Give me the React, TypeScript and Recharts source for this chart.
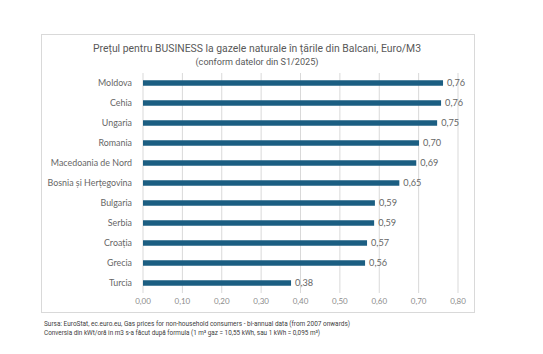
import React from "react";
import { BarChart, Bar, XAxis, YAxis, CartesianGrid, LabelList } from "recharts";

const countries = [
  "Moldova",
  "Cehia",
  "Ungaria",
  "Romania",
  "Macedoania de Nord",
  "Bosnia și Herțegovina",
  "Bulgaria",
  "Serbia",
  "Croația",
  "Grecia",
  "Turcia",
];
const prices = [0.762, 0.757, 0.747, 0.701, 0.694, 0.651, 0.589, 0.587, 0.569, 0.564, 0.376];
const xTicks = [0, 0.1, 0.2, 0.3, 0.4, 0.5, 0.6, 0.7, 0.8];

const titleText = "Prețul pentru BUSINESS  la gazele naturale în țările din Balcani, Euro/M3";
const subtitleText = "(conform datelor din S1/2025)";
const sourceText =
  "Sursa: EuroStat, ec.euro.eu, Gas prices for non-household consumers - bi-annual data (from 2007 onwards)";
const noteText =
  "Conversia din kWt/oră în m3 s-a făcut după formula (1 m³ gaz = 10,55 kWh, sau 1 kWh = 0,095 m³)";

const data = countries.map((c, i) => ({ country: c, value: prices[i] }));
const fmt = (v: number) => v.toFixed(2).replace(".", ",");

const FONT = "Roboto, 'Noto Sans', sans-serif";
const LFONT = "Lato, Roboto, sans-serif";

export default function App() {
  return (
    <div
      style={{
        position: "absolute",
        left: 0,
        top: 0,
        width: 543,
        height: 354,
        background: "#ffffff",
        fontFamily: FONT,
      }}
    >
      <svg width={543} height={354} style={{ position: "absolute", left: 0, top: 0 }}>
        <rect x={41.5} y={34.5} width={433} height={278} fill="#ffffff" stroke="#d9d9d9" strokeWidth={1} />
      </svg>
      <div style={{ position: "absolute", left: 0, top: 0 }}>
        <BarChart
          width={543}
          height={354}
          data={data}
          layout="vertical"
          margin={{ top: 73, right: 85, bottom: 41, left: 0 }}
          barCategoryGap="64%"
        >
          <CartesianGrid horizontal={false} vertical={true} stroke="#d9d9d9" strokeWidth={1} />
          <XAxis
            type="number"
            domain={[0, 0.8]}
            ticks={xTicks}
            tickFormatter={fmt}
            axisLine={false}
            tickLine={false}
            tickSize={0}
            tickMargin={5}
            height={20}
            tick={{ fontSize: 8, fill: "#8c8c8c", fontFamily: LFONT }}
            interval={0}
          />
          <YAxis
            type="category"
            dataKey="country"
            width={143}
            axisLine={false}
            tickLine={false}
            tickSize={0}
            tickMargin={11}
            interval={0}
            tick={{ fontSize: 8.9, fill: "#666666", fontFamily: LFONT }}
          />
          <Bar dataKey="value" fill="#1b5e82" isAnimationActive={false}>
            <LabelList
              dataKey="value"
              position="right"
              offset={4}
              formatter={(v: any) => fmt(Number(v))}
              style={{ fontSize: 9.2, fill: "#666666", fontFamily: LFONT }}
            />
          </Bar>
        </BarChart>
      </div>
      <svg
        width={543}
        height={354}
        style={{ position: "absolute", left: 0, top: 0, pointerEvents: "none" }}
      >
        <text
          x={257}
          y={52}
          textAnchor="middle"
          fontSize={11.5}
          fill="#595959"
          fontFamily={FONT}
          textLength={328}
          lengthAdjust="spacingAndGlyphs"
        >
          {titleText}
        </text>
        <text
          x={257}
          y={65}
          textAnchor="middle"
          fontSize={8.5}
          fill="#595959"
          fontFamily={FONT}
          textLength={123}
          lengthAdjust="spacingAndGlyphs"
        >
          {subtitleText}
        </text>
        <text
          x={44}
          y={325.5}
          fontSize={7}
          fill="#404040"
          fontFamily={FONT}
          textLength={306}
          lengthAdjust="spacingAndGlyphs"
        >
          {sourceText}
        </text>
        <text
          x={44}
          y={334.5}
          fontSize={7}
          fill="#404040"
          fontFamily={FONT}
          textLength={276}
          lengthAdjust="spacingAndGlyphs"
        >
          {noteText}
        </text>
      </svg>
    </div>
  );
}
